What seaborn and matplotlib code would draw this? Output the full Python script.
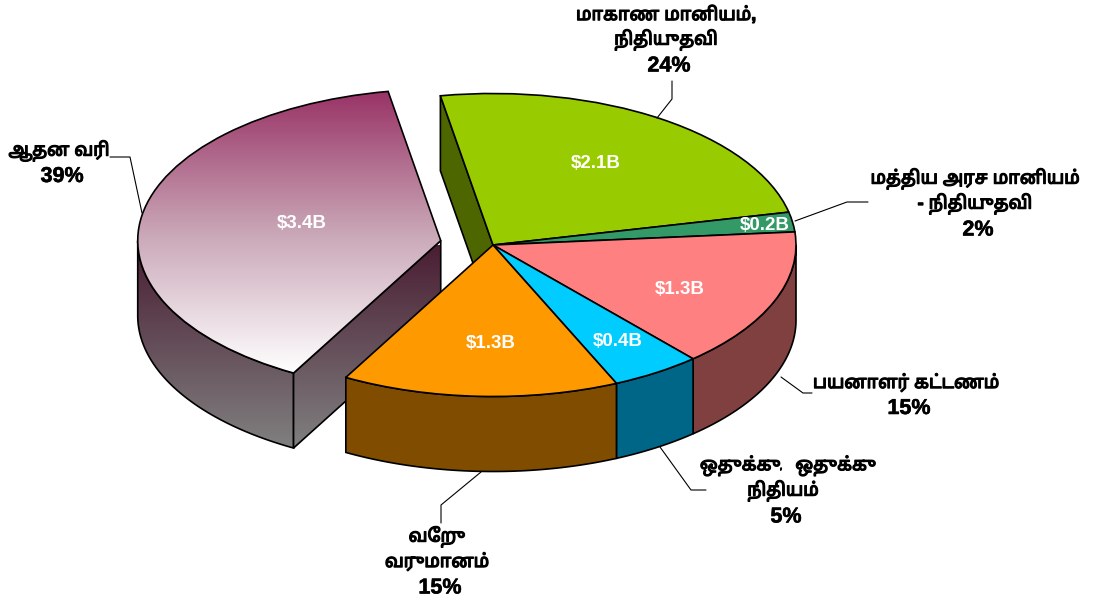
import numpy as np
import matplotlib
matplotlib.use('Agg')
import matplotlib.pyplot as plt
import matplotlib.patheffects as pe
import seaborn as sns

sns.set_theme(style='white')
plt.rcParams['font.family'] = ['Liberation Sans', 'Noto Sans Tamil', 'DejaVu Sans']

# slices, clockwise from the top
names = ['மாகாண மானியம்,\nநிதியுதவி', 'மத்திய அரச மானியம்\n- நிதியுதவி', 'பயனாளர் கட்டணம்',
         'ஒதுக்கு/ஒதுக்கு\nநிதியம்', 'வேறு\nவருமானம்', 'ஆதன வரி']
percent = [24, 2, 15, 5, 15, 39]
shares = [24.3, 2.1, 14.9, 4.8, 14.75, 39.15]     # slice sizes
amounts = ['$2.1B', '$0.2B', '$1.3B', '$0.4B', '$1.3B', '$3.4B']
explode = [0, 0, 0, 0, 0, 53]
top_colors = ['#99cc00', '#339966', '#ff8080', '#00ccff', '#ff9900', '#993366']
side_colors = ['#4d6600', '#1a4d33', '#804040', '#006688', '#804d00', '#808080']

W, H = 1094, 607
SQUASH = 2      # the pie is a circle seen at 1:2
DEPTH = 75 * SQUASH
LW = 1.2


def py(y):
    # picture row -> data y
    return (H - y) * SQUASH


def fade(ax, clip, start, stop, stops):
    # vertical gradient clipped to a patch
    c = matplotlib.colors.LinearSegmentedColormap.from_list('g', stops)
    im = ax.imshow(np.linspace(0, 1, 256).reshape(-1, 1), cmap=c, aspect='auto', origin='upper',
                   extent=(0, W, py(stop), py(start)), zorder=clip.get_zorder() - 0.01)
    im.set_clip_path(clip)


fig = plt.figure(figsize=(W / 100, H / 100), dpi=100)
ax = fig.add_axes([0, 0, 1, 1])
wedges, _ = ax.pie(shares, explode=explode, colors=top_colors, startangle=100, counterclock=False,
                   radius=303, center=(493, py(245)), normalize=True,
                   wedgeprops={'edgecolor': 'black', 'linewidth': LW, 'zorder': 3})
ax.set_aspect('auto')

for w, col in zip(wedges, side_colors):
    cx, cy = w.center
    t = np.radians(np.linspace(w.theta1, w.theta2, 200))
    t = t[np.sin(t) <= 0]
    if len(t) == 0:
        continue
    x = cx + w.r * np.cos(t)
    y = cy + w.r * np.sin(t)
    xy = np.r_[np.c_[x, y], np.c_[x, y - DEPTH][::-1]]
    if col == '#808080':
        p = plt.Polygon(xy, closed=True, fc='none', ec='black', lw=LW, zorder=1.2)
        ax.add_patch(p)
        fade(ax, p, 245, 448, ['#4a1e33', '#808080'])
        # cut face of the pulled out slice
        a = np.radians(w.theta2)
        ex, ey = cx + w.r * np.cos(a), cy + w.r * np.sin(a)
        face = plt.Polygon([(cx, cy), (ex, ey), (ex, ey - DEPTH), (cx, cy - DEPTH)], closed=True,
                           fc='none', ec='black', lw=LW, zorder=1.3)
        ax.add_patch(face)
        fade(ax, face, 245, 448, ['#4a1e33', '#808080'])
    else:
        ax.add_patch(plt.Polygon(xy, closed=True, fc=col, ec='black', lw=LW, zorder=2))

# left cut face of the first slice, seen through the gap
w = wedges[0]
a = np.radians(w.theta2)
ex, ey = w.center[0] + w.r * np.cos(a), w.center[1] + w.r * np.sin(a)
ax.add_patch(plt.Polygon([w.center, (ex, ey), (ex, ey - DEPTH), (w.center[0], w.center[1] - DEPTH)],
                         closed=True, fc=side_colors[0], ec='black', lw=LW, zorder=1))

# gradient on the pulled out slice
wedges[-1].set_facecolor('none')
fade(ax, wedges[-1], 91, 373, ['#993366', '#c9a6b6', '#ffffff'])

# amounts inside the slices
amount_pos = [(596, 164), (765, 225), (680, 289), (618, 341), (491, 343), (302, 224)]
for s, (x, y) in zip(amounts, amount_pos):
    ax.text(x, py(y), s.replace('$', r'\$'), color='white', fontsize=13.5, fontweight='bold',
            ha='center', va='center', zorder=5)

# outer labels: centre x, row of the first line
label_pos = [(666, 15), (975, 179), (906, 383), (783, 466), (437, 537), (59, 151)]
for n, p, (x, y) in zip(names, percent, label_pos):
    lines = n.split('\n')
    for i, s in enumerate(lines):
        ax.text(x, py(y + i * 25), s, color='black', fontsize=13, fontweight='bold',
                ha='center', va='center', zorder=5,
                path_effects=[pe.withStroke(linewidth=0.9, foreground='black')])
    ax.text(x + 3, py(y + len(lines) * 25.5), '%d%%' % p, color='black', fontsize=15.5, fontweight='bold',
            ha='center', va='center', zorder=5,
            path_effects=[pe.withStroke(linewidth=0.4, foreground='black')])

# leader lines
leaders = [[(672, 81), (672, 99), (657, 118)],
           [(795, 221), (847, 202), (868, 202)],
           [(781, 377), (803, 393), (812, 393)],
           [(660, 447), (691, 490), (706, 490)],
           [(481, 472), (441, 505), (441, 523)],
           [(110, 157), (130, 157), (142, 213)]]
for line in leaders:
    ax.plot([q[0] for q in line], [py(q[1]) for q in line], color='black', lw=0.8, zorder=4)

ax.set_xlim(0, W)
ax.set_ylim(0, H * SQUASH)
ax.axis('off')
fig.savefig('out.png', dpi=100, facecolor='white')
